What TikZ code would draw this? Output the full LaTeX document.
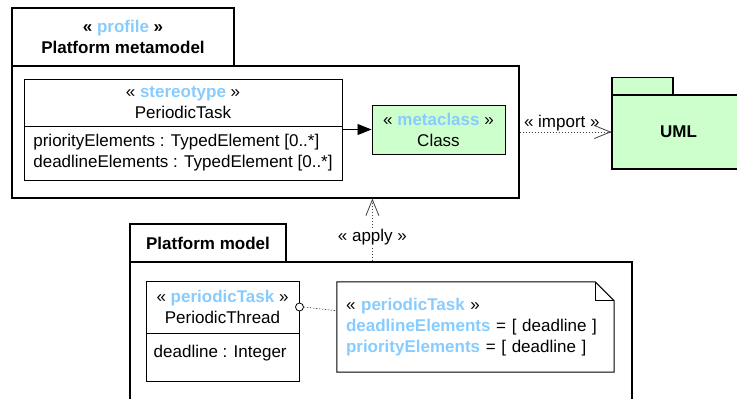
\documentclass[tikz,border=0pt]{standalone}
\usepackage{fontspec}
\setmainfont{Liberation Sans}
\usetikzlibrary{arrows.meta,calc}
\definecolor{stblue}{HTML}{88CCFF}
\definecolor{pkggreen}{HTML}{CCFFCC}
\newcommand\sterName[1]{\textcolor{stblue}{\bfseries #1}}
\begin{document}
\begin{tikzpicture}[x=1pt,y=-1pt,
  every node/.style={font=\fontsize{17}{21}\selectfont},
  pkg/.style={draw, line width=1.2pt, inner sep=0pt, align=center},
  box/.style={draw, line width=1pt, inner sep=0pt, align=center},
  compart/.style={draw, line width=1pt, inner sep=0pt, align=left},
  depend/.style={draw=black!75, line width=0.6pt, dash pattern=on 1.5pt off 1.5pt,
    -{Straight Barb[length=16pt,width=13pt,line width=0.8pt]}},
  lbl/.style={inner sep=1pt}]
\useasboundingbox (0,0) rectangle (737,399);
\clip (0,0) rectangle (737,399);
% Platform metamodel package
\node[pkg, minimum width=222, minimum height=58] (mmtab) at (123,37)
  {{\bfseries « \sterName{profile} »}\\ \bfseries Platform metamodel};
\node[pkg, minimum width=507, minimum height=132] (mmbody) at (265.5,132) {};
\node[box, minimum width=318, minimum height=47] (sthead) at (183,102.5)
  {« \sterName{stereotype} »\\ PeriodicTask};
\node[compart, minimum width=318, minimum height=54] (stattr) at (183,153)
  {priorityElements : TypedElement [0..*]\\ deadlineElements : TypedElement [0..*]};
\node[box, fill=pkggreen, minimum width=133, minimum height=49] (cls) at (438.5,129.5)
  {« \sterName{metaclass} »\\ Class};
\draw[line width=0.8pt, -{Triangle[length=14pt,width=11pt]}] (stattr.east |- cls.west) -- (cls.west);
% UML package
\node[pkg, fill=pkggreen, minimum width=61, minimum height=18] (umltab) at (642.5,86.5) {};
\node[pkg, fill=pkggreen, minimum width=133, minimum height=74] (umlbody) at (678.5,132)
  {\bfseries UML};
\draw[depend] (mmbody.east) -- (umlbody.west)
  node[lbl, pos=0.46, anchor=base, yshift=5pt] (implbl) {« import »};
% Platform model package
\node[pkg, minimum width=156, minimum height=38] (pmtab) at (208,243) {\bfseries Platform model};
\node[pkg, minimum width=502, minimum height=158] (pmbody) at (381,341) {};
\draw[depend] ($(pmbody.north west)+(243,0)$) -- ($(mmbody.south west)+(361,0)$)
  node[lbl, pos=0.39, fill=white] (applbl) {« apply »};
\node[box, minimum width=153, minimum height=52] (pthead) at (222.5,307)
  {« \sterName{periodicTask} »\\ PeriodicThread};
\node[box, minimum width=153, minimum height=48] (ptattr) at (222.5,357) {};
\node[anchor=west, inner sep=0pt] (ptattrtext) at ($(ptattr.north west)+(8,20.5)$) {deadline : Integer};
% note
\node[inner ysep=0pt, inner xsep=9pt, text width=259, minimum height=90, align=left] (note) at (475.5,327)
  {« \sterName{periodicTask} »\\ \sterName{deadlineElements} = [ deadline ]\\ \sterName{priorityElements} = [ deadline ]};
\draw[line width=1pt, line join=miter] (note.north west) -- ($(note.north east)+(-19,0)$)
  -- ($(note.north east)+(0,19)$) -- (note.south east) -- (note.south west) -- cycle;
\draw[line width=0.8pt] ($(note.north east)+(-19,0)$) -- ($(note.north east)+(-19,19)$) -- ($(note.north east)+(0,19)$);
\node[circle, draw, line width=0.8pt, fill=white, minimum size=8, inner sep=0pt] (ring) at (pthead.east) {};
\draw[draw=black!75, line width=0.6pt, dash pattern=on 1.5pt off 1.5pt] (ring.east) -- ($(note.north west)+(0,29)$);
\end{tikzpicture}
\end{document}
